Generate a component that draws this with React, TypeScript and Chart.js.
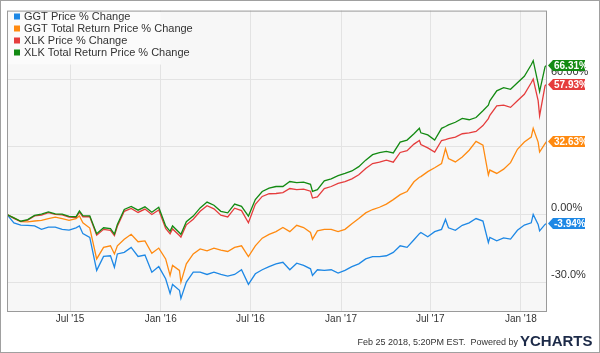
import React, { useEffect, useRef } from "react";
import { Chart, registerables } from "chart.js";

Chart.register(...registerables);

const dates = [
  "2015-02-23","2015-03-09","2015-03-23","2015-04-06","2015-04-20","2015-05-04","2015-05-18","2015-06-01","2015-06-15","2015-06-29",
  "2015-07-13","2015-07-20","2015-07-27","2015-08-10","2015-08-24","2015-09-07","2015-09-21","2015-09-29","2015-10-05","2015-10-19",
  "2015-11-02","2015-11-16","2015-11-30","2015-12-14","2015-12-28","2016-01-11","2016-01-20","2016-01-25","2016-02-08","2016-02-11",
  "2016-02-22","2016-03-07","2016-03-21","2016-04-04","2016-04-18","2016-05-02","2016-05-16","2016-05-30","2016-06-13","2016-06-27",
  "2016-07-11","2016-07-25","2016-08-08","2016-08-22","2016-09-05","2016-09-19","2016-10-03","2016-10-17","2016-10-31","2016-11-04",
  "2016-11-14","2016-11-28","2016-12-12","2016-12-26","2017-01-09","2017-01-23","2017-02-06","2017-02-20","2017-03-06","2017-03-20",
  "2017-04-03","2017-04-17","2017-05-01","2017-05-15","2017-05-29","2017-06-09","2017-06-12","2017-06-26","2017-07-10","2017-07-24",
  "2017-08-01","2017-08-07","2017-08-21","2017-09-04","2017-09-18","2017-10-02","2017-10-16","2017-10-27","2017-10-30","2017-11-13",
  "2017-11-27","2017-12-11","2017-12-25","2018-01-08","2018-01-22","2018-01-26","2018-02-05","2018-02-08","2018-02-19","2018-02-23",
];

const ggtPrice = [
  0, -3.7, -4.7, -4.8, -5.1, -6.6, -5.6, -5.6, -6.6, -6.9,
  -5.9, -5.1, -8.5, -10.2, -24.8, -18.6, -18.3, -23.4, -17.5, -16.8,
  -14.6, -18.6, -18.0, -25.6, -23.1, -28.5, -35.0, -31.0, -33.6, -37.2,
  -30.0, -25.6, -25.6, -26.6, -25.6, -26.6, -27.3, -26.6, -24.5, -31.0,
  -26.3, -24.5, -23.1, -21.9, -21.2, -24.5, -21.6, -22.6, -24.1, -27.0,
  -24.5, -24.8, -24.5, -26.0, -24.8, -23.1, -21.9, -19.7, -18.7, -18.7,
  -18.3, -16.8, -13.9, -14.6, -11.2, -8.5, -8.0, -9.9, -7.6, -6.6,
  -2.2, -5.9, -7.0, -4.8, -3.7, -1.8, -2.9, -12.4, -10.2, -11.7,
  -10.4, -10.9, -7.0, -4.7, -3.7, 0.0, -4.4, -7.3, -4.4, -3.94,
];

const ggtTotal = [
  0, -1.5, -3.2, -3.3, -2.9, -2.6, -1.8, -1.2, -1.8, -2.6,
  -1.8, -0.7, -3.7, -6.0, -19.7, -14.6, -13.9, -17.5, -13.9, -11.0,
  -8.8, -12.1, -11.7, -17.2, -14.9, -19.7, -27.0, -22.6, -24.8, -30.0,
  -21.9, -17.5, -15.3, -16.1, -14.9, -15.8, -16.4, -14.6, -13.9, -18.7,
  -13.9, -10.5, -8.8, -7.6, -5.8, -7.6, -4.8, -5.8, -8.0, -11.0,
  -7.3, -6.6, -6.6, -7.6, -6.6, -4.1, -1.8, 0.7, 2.2, 3.2,
  4.6, 6.6, 8.8, 10.2, 14.5, 16.5, 16.8, 19.0, 20.7, 22.6,
  29.2, 24.8, 23.3, 25.5, 28.5, 32.4, 30.7, 17.5, 19.7, 18.2,
  20.1, 23.0, 28.9, 32.1, 34.3, 38.2, 32.1, 27.7, 31.4, 32.63,
];

const xlkPrice = [
  0, -1.8, -3.2, -2.5, -0.6, -0.3, 0.8, 0.0, -0.2, -1.2,
  -1.4, 1.0, -1.0, -1.0, -9.2, -6.6, -7.0, -9.4, -5.2, 1.4,
  2.7, 0.9, 2.4, 0.0, 2.0, -6.2, -8.6, -6.4, -9.3, -10.0,
  -4.6, -2.1, 1.4, 3.9, 2.5, -0.3, -1.1, 2.8, 1.7, -3.7,
  4.5, 8.0, 9.2, 9.3, 9.7, 11.5, 11.0, 11.2, 10.3, 7.3,
  7.8, 11.5, 12.4, 13.8, 14.6, 15.8, 17.6, 20.4, 22.6, 23.2,
  24.1, 23.2, 27.5, 28.3, 31.2, 32.8, 31.0, 29.5, 27.7, 32.8,
  33.2, 33.6, 34.3, 35.8, 36.2, 36.8, 39.4, 42.5, 44.0, 48.2,
  48.5, 47.5, 50.4, 53.3, 58.4, 60.0, 50.5, 43.8, 57.0, 57.93,
];

const xlkTotal = [
  0, -1.5, -3.0, -2.3, -0.4, 0.2, 1.1, 0.3, 0.2, -0.8,
  -1.0, 1.6, -0.5, -0.6, -8.5, -5.9, -6.3, -8.7, -4.4, 2.2,
  3.6, 1.9, 3.4, 1.0, 3.2, -5.1, -7.5, -5.1, -8.1, -8.8,
  -3.2, -0.7, 2.9, 5.5, 4.1, 1.4, 0.7, 4.6, 3.6, -0.7,
  6.6, 10.2, 11.7, 12.4, 12.4, 14.6, 14.1, 14.3, 13.4, 10.2,
  11.0, 14.9, 15.8, 17.2, 18.2, 19.3, 21.2, 24.1, 26.5, 27.4,
  28.0, 27.3, 32.1, 33.0, 35.8, 38.2, 36.2, 35.3, 33.0, 38.2,
  39.0, 39.7, 40.9, 42.6, 42.0, 43.0, 46.0, 48.5, 50.4, 54.8,
  56.2, 55.5, 58.4, 61.3, 66.4, 68.2, 58.0, 54.5, 65.5, 66.31,
];

const seriesNames = [
  "GGT Price % Change",
  "GGT Total Return Price % Change",
  "XLK Price % Change",
  "XLK Total Return Price % Change",
];
const seriesColors = ["#1e88e5", "#ff8a10", "#e53d3d", "#138a12"];

const xTickDates = ["2015-07-01", "2016-01-01", "2016-07-01", "2017-01-01", "2017-07-01", "2018-01-01"];
const xTickLabels = ["Jul '15", "Jan '16", "Jul '16", "Jan '17", "Jul '17", "Jan '18"];
const yTickValues = [-30, 0, 30, 60];
const yTickLabels = ["-30.0%", "0.00%", "", "60.00%"];

const footerText = "Feb 25 2018, 5:20PM EST.  Powered by";
const logoText = "YCHARTS";

const FONT = "'Liberation Sans', Arial, Helvetica, sans-serif";

const day = (s: string) => (Date.parse(s) - Date.parse(dates[0])) / 86400000;

export default function App() {
  const ref = useRef<HTMLCanvasElement | null>(null);

  useEffect(() => {
    document.body.style.margin = "0";
    const canvas = ref.current;
    if (!canvas) return;
    const allSeries = [ggtPrice, ggtTotal, xlkPrice, xlkTotal];

    const decor = {
      id: "decor",
      beforeDraw(chart: any) {
        const { ctx, chartArea: a } = chart;
        ctx.save();
        ctx.fillStyle = "#ffffff";
        ctx.fillRect(0, 0, chart.width, chart.height);
        ctx.fillStyle = "#f7f7f7";
        ctx.fillRect(a.left, a.top, a.right - a.left, a.bottom - a.top);
        ctx.restore();
      },
      afterDatasetsDraw(chart: any) {
        const { ctx, chartArea: a } = chart;
        ctx.save();
        // legend
        ctx.fillStyle = "rgba(251,251,251,0.9)";
        ctx.fillRect(a.left + 1, a.top + 1, 153, 53);
        ctx.font = `11px ${FONT}`;
        ctx.textBaseline = "middle";
        seriesNames.forEach((n, i) => {
          const y = 16.5 + i * 12;
          ctx.fillStyle = seriesColors[i];
          ctx.fillRect(14, y - 3, 6, 6);
          ctx.fillStyle = "#333333";
          ctx.fillText(n, 24, y);
        });
        // plot border
        ctx.strokeStyle = "#9a9a9a";
        ctx.lineWidth = 1;
        ctx.strokeRect(a.left + 0.5, a.top + 0.5, a.right - a.left - 1, a.bottom - a.top);
        ctx.restore();
      },
      afterDraw(chart: any) {
        const { ctx, chartArea: a } = chart;
        const ys = chart.scales.y;
        ctx.save();
        // end tags
        ctx.font = `bold 10px ${FONT}`;
        ctx.textBaseline = "middle";
        allSeries.forEach((s, i) => {
          const v = s[s.length - 1];
          const y = Math.round(ys.getPixelForValue(v)) + 0.5;
          const x0 = a.right + 1;
          const h = 5.5;
          ctx.fillStyle = seriesColors[i];
          ctx.beginPath();
          ctx.moveTo(x0, y);
          ctx.lineTo(x0 + 5, y - h);
          ctx.lineTo(x0 + 37, y - h);
          ctx.lineTo(x0 + 37, y + h);
          ctx.lineTo(x0 + 5, y + h);
          ctx.closePath();
          ctx.fill();
          ctx.fillStyle = "#ffffff";
          ctx.fillText(v.toFixed(2) + "%", x0 + 6, y + 0.5);
        });
        // footer
        ctx.fillStyle = "#333333";
        ctx.font = `9px ${FONT}`;
        ctx.textAlign = "right";
        ctx.textBaseline = "middle";
        ctx.fillText(footerText, 518, 343);
        ctx.textAlign = "left";
        ctx.fillStyle = "#1c2a48";
        ctx.font = `bold 15px ${FONT}`;
        ctx.fillText(logoText, 520, 342);
        // outer frame
        ctx.strokeStyle = "#a0a0a0";
        ctx.lineWidth = 1;
        ctx.strokeRect(0.5, 0.5, chart.width - 1, chart.height - 1);
        ctx.restore();
      },
    };

    const chart = new Chart(canvas, {
      type: "line",
      data: {
        datasets: allSeries.map((s, i) => ({
          label: seriesNames[i],
          data: s.map((v, j) => ({ x: day(dates[j]), y: v })),
          borderColor: seriesColors[i],
          backgroundColor: seriesColors[i],
          borderWidth: 1.3,
          pointRadius: 0,
          tension: 0,
          fill: false,
          order: 3 - i,
        })),
      },
      options: {
        responsive: false,
        animation: false,
        devicePixelRatio: 1,
        layout: { padding: { left: 7, top: 7, right: 0, bottom: 0 } },
        plugins: { legend: { display: false }, tooltip: { enabled: false } },
        scales: {
          x: {
            type: "linear",
            min: 0,
            max: day(dates[dates.length - 1]),
            afterBuildTicks: (scale: any) => {
              scale.ticks = xTickDates.map((d) => ({ value: day(d) }));
            },
            afterFit: (scale: any) => {
              scale.height = 42;
            },
            grid: { color: "#e3e3e3", drawTicks: false },
            border: { display: false },
            ticks: {
              autoSkip: false,
              maxRotation: 0,
              padding: 2,
              color: "#333333",
              font: { family: FONT, size: 10 },
              callback: (_v: any, i: number) => xTickLabels[i],
            },
          },
          y: {
            type: "linear",
            position: "right",
            min: -42.8,
            max: 90.4,
            afterBuildTicks: (scale: any) => {
              scale.ticks = yTickValues.map((v) => ({ value: v }));
            },
            afterFit: (scale: any) => {
              scale.width = 53;
            },
            grid: { color: "#e3e3e3", drawTicks: false },
            border: { display: false },
            ticks: {
              padding: 4,
              labelOffset: -7,
              color: "#333333",
              font: { family: FONT, size: 11 },
              callback: (_v: any, i: number) => yTickLabels[i],
            },
          },
        },
      },
      plugins: [decor],
    });

    return () => chart.destroy();
  }, []);

  return (
    <div style={{ width: 600, height: 353 }}>
      <canvas ref={ref} width={600} height={353} style={{ display: "block" }} />
    </div>
  );
}
